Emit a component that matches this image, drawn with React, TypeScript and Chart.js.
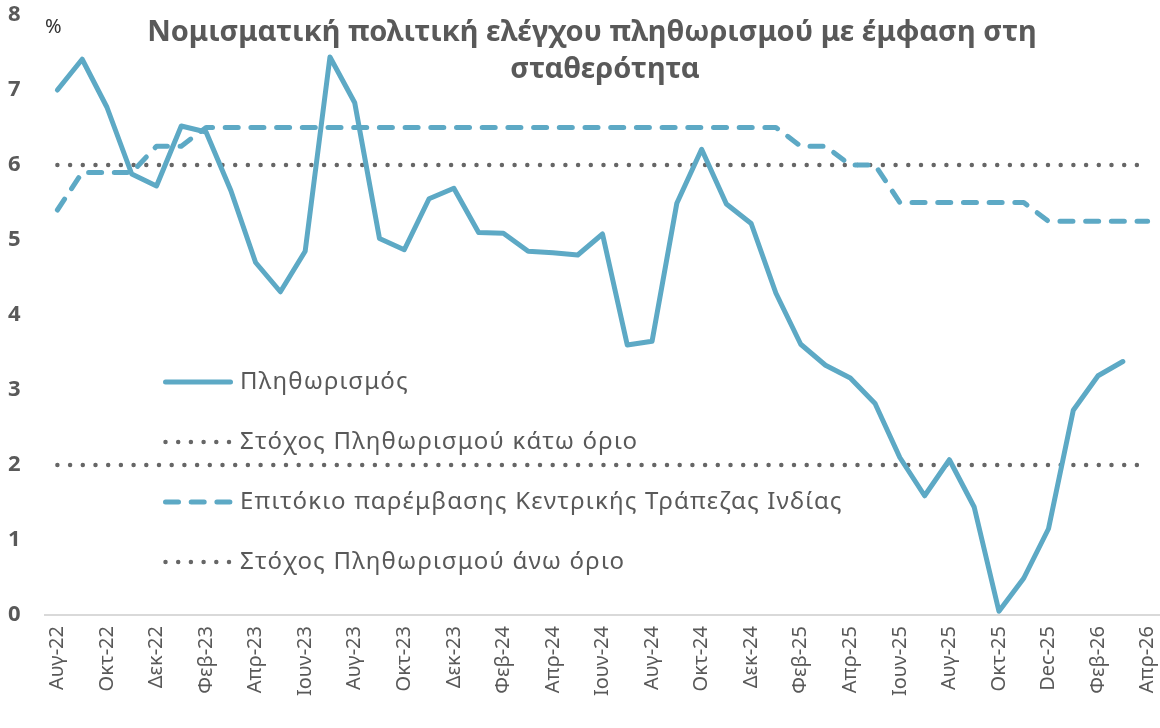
import React, { useEffect, useRef } from "react";
import { Chart, registerables } from "chart.js";

Chart.register(...registerables);

const months: string[] = [
  "Αυγ-22", "Σεπ-22", "Οκτ-22", "Νοε-22", "Δεκ-22", "Ιαν-23", "Φεβ-23", "Μαρ-23", "Απρ-23", "Μαϊ-23",
  "Ιουν-23", "Ιουλ-23", "Αυγ-23", "Σεπ-23", "Οκτ-23", "Νοε-23", "Δεκ-23", "Ιαν-24", "Φεβ-24", "Μαρ-24",
  "Απρ-24", "Μαϊ-24", "Ιουν-24", "Ιουλ-24", "Αυγ-24", "Σεπ-24", "Οκτ-24", "Νοε-24", "Δεκ-24", "Ιαν-25",
  "Φεβ-25", "Μαρ-25", "Απρ-25", "Μαϊ-25", "Ιουν-25", "Ιουλ-25", "Αυγ-25", "Σεπ-25", "Οκτ-25", "Νοε-25",
  "Dec-25", "Ιαν-26", "Φεβ-26", "Μαρ-26", "Απρ-26",
];

const inflation: number[] = [
  7.0, 7.41, 6.77, 5.88, 5.72, 6.52, 6.44, 5.66, 4.7, 4.31,
  4.85, 7.44, 6.83, 5.02, 4.87, 5.55, 5.69, 5.1, 5.09, 4.85,
  4.83, 4.8, 5.08, 3.6, 3.65, 5.49, 6.21, 5.48, 5.22, 4.29,
  3.61, 3.33, 3.16, 2.82, 2.1, 1.59, 2.07, 1.44, 0.05, 0.49,
  1.15, 2.73, 3.19, 3.38,
];

const repoRate: number[] = [
  5.4, 5.9, 5.9, 5.9, 6.25, 6.25, 6.5, 6.5, 6.5, 6.5,
  6.5, 6.5, 6.5, 6.5, 6.5, 6.5, 6.5, 6.5, 6.5, 6.5,
  6.5, 6.5, 6.5, 6.5, 6.5, 6.5, 6.5, 6.5, 6.5, 6.5,
  6.25, 6.25, 6.0, 6.0, 5.5, 5.5, 5.5, 5.5, 5.5, 5.5,
  5.25, 5.25, 5.25, 5.25, 5.25,
];

const lowerTarget: number[] = months.map(() => 2);
const upperTarget: number[] = months.map(() => 6);

const seriesLabels: string[] = [
  "Πληθωρισμός",
  "Στόχος Πληθωρισμού κάτω όριο",
  "Επιτόκιο παρέμβασης Κεντρικής Τράπεζας Ινδίας",
  "Στόχος Πληθωρισμού άνω όριο",
];

const titleLines: string[] = [
  "Νομισματική πολιτική ελέγχου πληθωρισμού με έμφαση στη",
  "σταθερότητα",
];
const unitLabel = "%";

const FONT = "'Noto Sans', sans-serif";
const TEXT = "#595959";
const BLUE = "#5DA9C5";
const DOT = "#666666";

const overlayPlugin = {
  id: "overlay",
  afterDraw(chart: any) {
    const ctx = chart.ctx;
    const area = chart.chartArea;
    ctx.save();
    // title
    ctx.fillStyle = TEXT;
    ctx.textAlign = "center";
    ctx.textBaseline = "middle";
    ctx.font = `bold 29px ${FONT}`;
    ctx.fillText(titleLines[0], 592, 33);
    ctx.fillText(titleLines[1], 605, 70);
    // unit
    ctx.fillStyle = "#333333";
    ctx.font = `20px ${FONT}`;
    ctx.textAlign = "left";
    ctx.fillText(unitLabel, area.left, 27);
    // legend
    const rows = [382, 442, 502, 562];
    const x0 = 165.5;
    const x1 = 230.5;
    chart.data.datasets.forEach((ds: any, i: number) => {
      const y = rows[i];
      ctx.beginPath();
      ctx.setLineDash(ds.borderDash || []);
      ctx.lineCap = "round";
      ctx.lineWidth = ds.borderWidth;
      ctx.strokeStyle = ds.borderColor;
      ctx.moveTo(x0, y);
      ctx.lineTo(x1, y);
      ctx.stroke();
      ctx.setLineDash([]);
      ctx.fillStyle = TEXT;
      ctx.font = `24px ${FONT}`;
      (ctx as any).letterSpacing = "1.2px";
      ctx.textAlign = "left";
      ctx.textBaseline = "middle";
      ctx.fillText(ds.label, 240, y);
      (ctx as any).letterSpacing = "0px";
    });
    ctx.restore();
  },
};

export default function App() {
  const ref = useRef<HTMLCanvasElement | null>(null);
  useEffect(() => {
    if (!ref.current) return;
    const chart = new Chart(ref.current, {
      type: "line",
      data: {
        labels: months,
        datasets: [
          {
            label: seriesLabels[0],
            data: inflation,
            borderColor: BLUE,
            borderWidth: 5,
            pointRadius: 0,
            borderJoinStyle: "round",
            borderCapStyle: "round",
            tension: 0,
          },
          {
            label: seriesLabels[1],
            data: lowerTarget,
            borderColor: DOT,
            borderWidth: 4.5,
            borderDash: [0, 12.7],
            borderCapStyle: "round",
            pointRadius: 0,
          },
          {
            label: seriesLabels[2],
            data: repoRate,
            borderColor: BLUE,
            borderWidth: 5,
            borderDash: [13, 12.7],
            borderCapStyle: "round",
            borderJoinStyle: "round",
            pointRadius: 0,
          },
          {
            label: seriesLabels[3],
            data: upperTarget,
            borderColor: DOT,
            borderWidth: 4.5,
            borderDash: [0, 12.7],
            borderCapStyle: "round",
            pointRadius: 0,
          },
        ],
      },
      options: {
        animation: false,
        responsive: false,
        maintainAspectRatio: false,
        layout: { padding: { top: 15, left: 8, right: 0, bottom: 0 } },
        plugins: {
          legend: { display: false },
          title: { display: false },
          tooltip: { enabled: false },
        },
        scales: {
          x: {
            offset: true,
            grid: { display: false, drawTicks: false },
            border: { display: true, color: "#D9D9D9", width: 2 },
            ticks: {
              autoSkip: false,
              minRotation: 90,
              maxRotation: 90,
              padding: 11,
              color: TEXT,
              font: { family: FONT, size: 20 },
              callback: (_v: any, i: number) => (i % 2 === 0 ? months[i] : ""),
            },
            afterFit: (s: any) => {
              s.height = 113;
              s.paddingLeft = 0;
              s.paddingRight = 0;
            },
          },
          y: {
            min: 0,
            max: 8,
            grid: { display: false, drawTicks: false },
            border: { display: false },
            ticks: {
              stepSize: 1,
              padding: 0,
              crossAlign: "far",
              color: TEXT,
              font: { family: FONT, size: 22, weight: "bold" },
            },
            afterFit: (s: any) => {
              s.width = 37;
            },
          },
        },
      },
      plugins: [overlayPlugin],
    });
    return () => chart.destroy();
  }, []);
  return (
    <div style={{ position: "absolute", left: 0, top: 0, width: 1160, height: 728, background: "#fff" }}>
      <canvas ref={ref} width={1160} height={728} style={{ width: 1160, height: 728, display: "block" }} />
    </div>
  );
}
